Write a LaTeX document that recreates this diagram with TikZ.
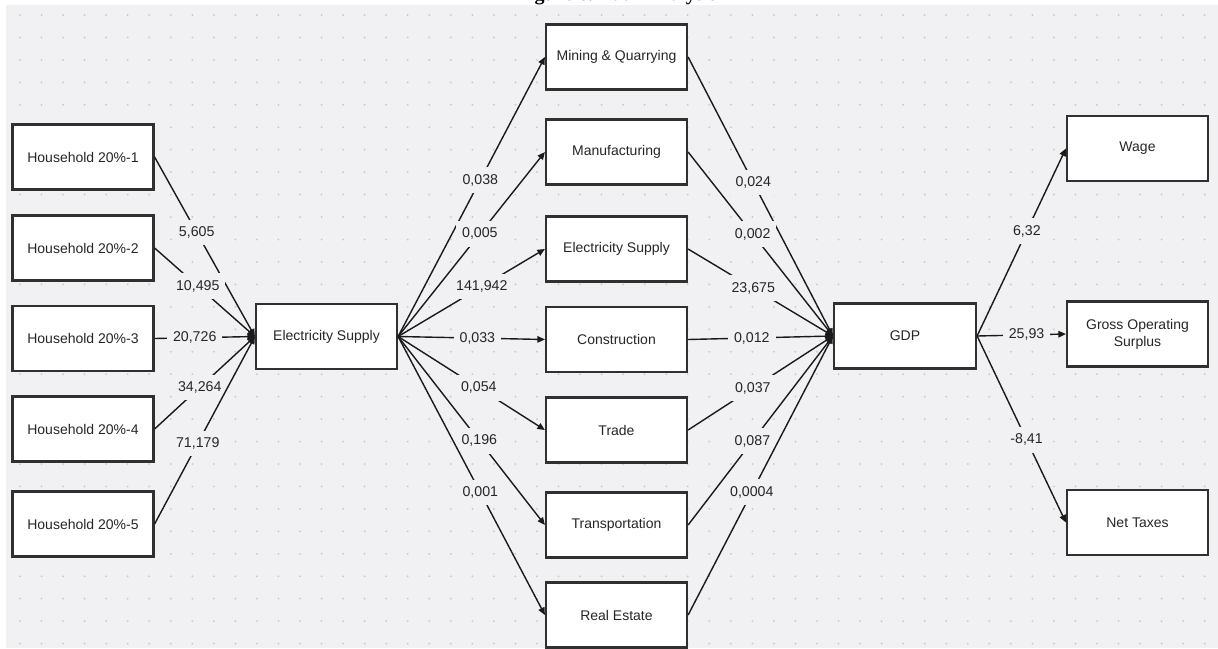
\documentclass[tikz,border=0pt]{standalone}
\usepackage{fontspec}
\setmainfont{Liberation Sans}
\newfontfamily\titlefont{Liberation Serif}
\usetikzlibrary{arrows.meta}
\definecolor{bgc}{HTML}{F1F1F3}
\definecolor{dotc}{HTML}{C8C8CD}
\definecolor{boxline}{HTML}{303030}
\definecolor{txt}{HTML}{262626}
\definecolor{linec}{HTML}{1A1A1A}
\begin{document}
\begin{tikzpicture}[x=1pt,y=-1pt,
  box/.style={draw=boxline,line width=2.2pt,fill=white,minimum width=141pt,minimum height=65pt,inner sep=2pt,font=\fontsize{14}{17}\selectfont,text=txt,align=center},
  conn/.style={draw=linec,line width=1.4pt,-{Triangle[length=7.5pt,width=6.5pt]}},
  lbl/.style={fill=bgc,inner xsep=6pt,inner ysep=7pt,font=\fontsize{14.2}{17}\selectfont,text=txt}]
\useasboundingbox (0,0) rectangle (1218,648);
\fill[white] (0,0) rectangle (1218,648);
\fill[bgc] (6,5) rectangle (1218,648);
\foreach \i in {0,...,55}{\foreach \j in {0,...,28}{\fill[dotc] ({20+\i*21.54},{15+\j*22.45}) circle (1pt);}}
\node[anchor=base,font=\titlefont\bfseries\fontsize{20}{24}\selectfont] (title) at (617,0.2) {Figure 6. Path Analysis};
% left column
\node[box] (h1) at (83,157) {Household 20\%-1};
\node[box] (h2) at (83,248) {Household 20\%-2};
\node[box] (h3) at (83,338.5) {Household 20\%-3};
\node[box] (h4) at (83,429) {Household 20\%-4};
\node[box] (h5) at (83,524) {Household 20\%-5};
\node[box] (esl) at (326.5,336.5) {Electricity Supply};
% middle column
\node[box] (mq) at (616.5,57) {Mining \& Quarrying};
\node[box] (mf) at (616.5,152) {Manufacturing};
\node[box] (es) at (616.5,249) {Electricity Supply};
\node[box] (co) at (616.5,339.5) {Construction};
\node[box] (tr) at (616.5,430) {Trade};
\node[box] (tp) at (616.5,525) {Transportation};
\node[box] (re) at (616.5,615) {Real Estate};
% right
\node[box,minimum width=142pt] (gdp) at (905,336) {GDP};
\node[box] (wg) at (1137.5,148.5) {Wage};
\node[box] (gos) at (1137.5,334) {Gross Operating\\Surplus};
\node[box] (nt) at (1137.5,522.5) {Net Taxes};
% households -> electricity supply
\draw[conn] (h1.east) -- node[lbl,pos=0.42]{5,605} (esl.west);
\draw[conn] (h2.east) -- node[lbl,pos=0.43]{10,495} (esl.west);
\draw[conn] (h3.east) -- node[lbl,pos=0.40]{20,726} (esl.west);
\draw[conn] (h4.east) -- node[lbl,pos=0.45]{34,264} (esl.west);
\draw[conn] (h5.east) -- node[lbl,pos=0.43]{71,179} (esl.west);
% electricity supply -> sectors
\draw[conn] (esl.east) -- node[lbl,pos=0.56]{0,038} (mq.west);
\draw[conn] (esl.east) -- node[lbl,pos=0.557]{0,005} (mf.west);
\draw[conn] (esl.east) -- node[lbl,pos=0.57]{141,942} (es.west);
\draw[conn] (esl.east) -- node[lbl,pos=0.54]{0,033} (co.west);
\draw[conn] (esl.east) -- node[lbl,pos=0.55]{0,054} (tr.west);
\draw[conn] (esl.east) -- node[lbl,pos=0.553]{0,196} (tp.west);
\draw[conn] (esl.east) -- node[lbl,pos=0.56]{0,001} (re.west);
% sectors -> GDP
\draw[conn] (mq.east) -- node[lbl,pos=0.45]{0,024} (gdp.west);
\draw[conn] (mf.east) -- node[lbl,pos=0.446]{0,002} (gdp.west);
\draw[conn] (es.east) -- node[lbl,pos=0.45]{23,675} (gdp.west);
\draw[conn] (co.east) -- node[lbl,pos=0.44]{0,012} (gdp.west);
\draw[conn] (tr.east) -- node[lbl,pos=0.447]{0,037} (gdp.west);
\draw[conn] (tp.east) -- node[lbl,pos=0.444]{0,087} (gdp.west);
\draw[conn] (re.east) -- node[lbl,pos=0.44]{0,0004} (gdp.west);
% GDP -> components
\draw[conn] (gdp.east) -- node[lbl,pos=0.56]{6,32} (wg.west);
\draw[conn] (gdp.east) -- node[lbl,pos=0.557]{25,93} (gos.west);
\draw[conn] (gdp.east) -- node[lbl,pos=0.557]{-8,41} (nt.west);
\end{tikzpicture}
\end{document}
